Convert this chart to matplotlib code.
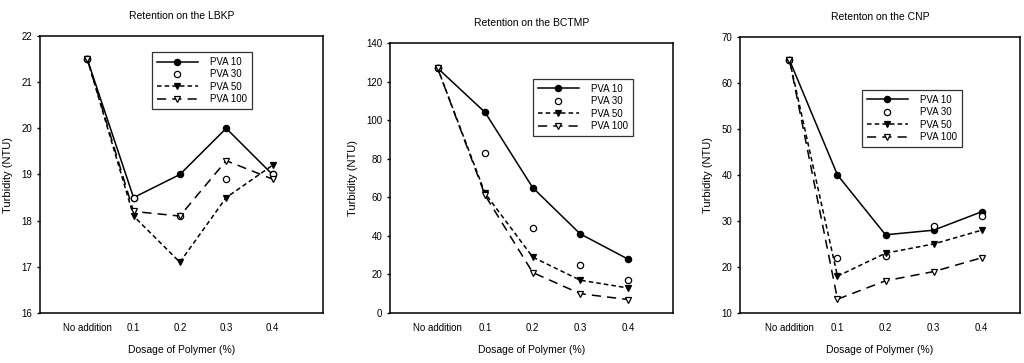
import numpy as np
import matplotlib.pyplot as plt

plt.rcParams['font.family'] = ['Liberation Sans Narrow', 'Liberation Sans', 'DejaVu Sans']

dosage = ['No addition', '0.1', '0.2', '0.3', '0.4']
series = ['PVA 10', 'PVA 30', 'PVA 50', 'PVA 100']

# LBKP
lbkp_10 = [21.5, 18.5, 19.0, 20.0, 19.0]
lbkp_30 = [21.5, 18.5, 18.1, 18.9, 19.0]
lbkp_50 = [21.5, 18.1, 17.1, 18.5, 19.2]
lbkp_100 = [21.5, 18.2, 18.1, 19.3, 18.9]

# BCTMP
bctmp_10 = [127, 104, 65, 41, 28]
bctmp_30 = [127, 83, 44, 25, 17]
bctmp_50 = [127, 62, 29, 17, 13]
bctmp_100 = [127, 61, 21, 10, 7]

# CNP
cnp_10 = [65, 40, 27, 28, 32]
cnp_30 = [65, 22, 22.5, 29, 31]
cnp_50 = [65, 18, 23, 25, 28]
cnp_100 = [65, 13, 17, 19, 22]

panels = [
    ('Retention on the LBKP', [lbkp_10, lbkp_30, lbkp_50, lbkp_100], (16, 22), np.arange(16, 23, 1)),
    ('Retention on the BCTMP', [bctmp_10, bctmp_30, bctmp_50, bctmp_100], (0, 140), np.arange(0, 141, 20)),
    ('Retenton on the CNP', [cnp_10, cnp_30, cnp_50, cnp_100], (10, 70), np.arange(10, 71, 10)),
]

# axes boxes in pixels: left, top, right, bottom
boxes = [(40, 36, 323, 313), (390, 43, 673, 313), (740, 37, 1020, 313)]
xlims = [(-1.02, 5.09), (-1.0, 4.95), (-1.03, 4.8)]
legend_at = [(0.396, 0.942), (0.505, 0.867), (0.436, 0.808)]

W, H = 1024, 363
fig = plt.figure(figsize=(W / 100, H / 100), dpi=100)

styles = [
    dict(ls='-', marker='o', mfc='black', mec='black'),
    dict(ls='none', marker='o', mfc='white', mec='black'),
    dict(ls=(0, (3, 2)), marker='v', mfc='black', mec='black'),
    dict(ls=(0, (6, 4)), marker='v', mfc='white', mec='black'),
]

x = np.arange(len(dosage))
for (title, data, ylim, yt), (l, t, r, b), xl, lg in zip(panels, boxes, xlims, legend_at):
    ax = fig.add_axes([l / W, 1 - b / H, (r - l) / W, (b - t) / H])
    for name, y, st in zip(series, data, styles):
        ax.plot(x, y, color='black', lw=1.1, ms=4.5, mew=0.9, label=name, **st)
    ax.set_xlim(*xl)
    ax.set_ylim(*ylim)
    ax.set_yticks(yt)
    ax.set_xticks(x)
    ax.set_xticklabels(dosage)
    ax.tick_params(axis='both', labelsize=7, length=0, pad=7)
    ax.tick_params(axis='y', length=2.5, width=1, pad=3)
    for s in ax.spines.values():
        s.set_linewidth(1.1)
    ax.set_title(title, fontsize=7.5, pad=12)
    ax.set_xlabel('Dosage of Polymer (%)', fontsize=7.5, labelpad=9)
    ax.set_ylabel('Turbidity (NTU)', fontsize=8, labelpad=6)
    leg = ax.legend(loc='upper left', bbox_to_anchor=lg, borderaxespad=0, fontsize=7,
                    frameon=True, fancybox=False, edgecolor='black', handlelength=4.2,
                    borderpad=0.5, labelspacing=0.25, handletextpad=1.3)
    leg.get_frame().set_linewidth(0.9)

fig.savefig('out.png', dpi=100)
